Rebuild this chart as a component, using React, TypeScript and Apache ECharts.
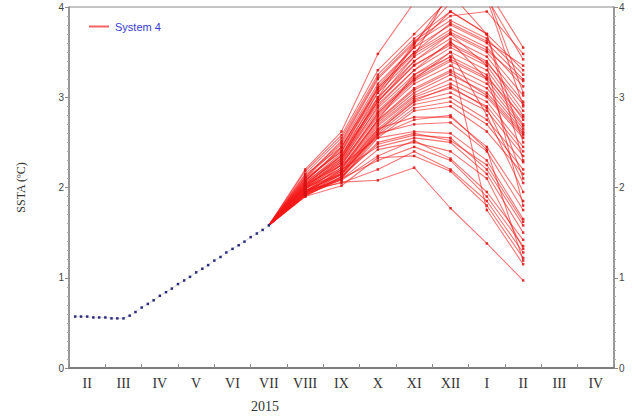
import React, { useEffect, useRef } from "react";
import * as echarts from "echarts";

const monthLabels = ["II", "III", "IV", "V", "VI", "VII", "VIII", "IX", "X", "XI", "XII", "I", "II", "III", "IV"];
const yearLabel = "2015";

// observed pentad SSTA (x = fractional month index, II 2015 = 0)
const obsX = [-0.33, -0.17, 0, 0.17, 0.33, 0.5, 0.67, 0.83, 1.0, 1.17, 1.33, 1.5, 1.67, 1.83, 2.0, 2.17, 2.33, 2.5, 2.67, 2.83, 3.0, 3.17, 3.33, 3.5, 3.67, 3.83, 4.0, 4.17, 4.33, 4.5, 4.67, 4.83, 5.0];
const obsSSTA = [0.57, 0.57, 0.57, 0.56, 0.56, 0.56, 0.55, 0.55, 0.55, 0.58, 0.62, 0.67, 0.71, 0.75, 0.80, 0.84, 0.88, 0.93, 0.97, 1.01, 1.06, 1.10, 1.14, 1.19, 1.23, 1.28, 1.32, 1.36, 1.40, 1.45, 1.49, 1.53, 1.58];

// System 4 ensemble forecasts, months VIII .. II (index 6..12), starting at VII observed value
const fcStartX = 5;
const fcStartY = 1.58;
const fcX = [6, 7, 8, 9, 10, 11, 12];
const members: number[][] = [
  [2.20, 2.62, 3.48, 4.05, 4.30, 4.20, 3.55],
  [2.18, 2.58, 3.30, 3.70, 4.10, 4.10, 3.42],
  [2.15, 2.55, 3.25, 3.65, 3.95, 3.70, 3.30],
  [2.12, 2.50, 3.20, 3.60, 3.85, 3.65, 3.25],
  [2.10, 2.48, 3.15, 3.55, 3.80, 3.60, 3.20],
  [2.14, 2.45, 3.10, 3.50, 3.75, 3.55, 3.12],
  [2.08, 2.42, 3.05, 3.45, 3.70, 3.50, 3.02],
  [2.10, 2.40, 3.00, 3.40, 3.65, 3.45, 2.95],
  [2.05, 2.38, 2.95, 3.35, 3.60, 3.40, 2.85],
  [2.06, 2.35, 2.92, 3.30, 3.55, 3.35, 2.80],
  [2.04, 2.33, 2.88, 3.25, 3.50, 3.30, 2.75],
  [2.02, 2.30, 2.85, 3.22, 3.45, 3.25, 2.70],
  [2.00, 2.28, 2.80, 3.18, 3.40, 3.20, 2.68],
  [2.03, 2.25, 2.78, 3.15, 3.35, 3.15, 2.65],
  [1.98, 2.22, 2.75, 3.10, 3.30, 3.10, 2.62],
  [2.00, 2.20, 2.72, 3.05, 3.25, 3.05, 2.60],
  [1.96, 2.18, 2.70, 3.02, 3.20, 3.00, 2.55],
  [1.95, 2.16, 2.68, 3.00, 3.15, 2.95, 2.45],
  [2.00, 2.15, 2.65, 2.98, 3.10, 2.90, 2.40],
  [1.97, 2.14, 2.62, 2.95, 3.05, 2.85, 2.35],
  [1.93, 2.12, 2.60, 2.92, 3.00, 2.75, 2.28],
  [1.95, 2.10, 2.58, 2.88, 2.95, 2.70, 2.20],
  [1.92, 2.10, 2.55, 2.85, 2.90, 2.62, 2.15],
  [2.02, 2.35, 3.05, 3.60, 4.05, 4.10, 2.90],
  [2.06, 2.45, 3.12, 3.55, 3.95, 3.70, 2.50],
  [2.01, 2.28, 2.90, 3.30, 3.62, 3.20, 2.10],
  [1.99, 2.25, 2.82, 3.20, 3.50, 2.80, 1.95],
  [1.94, 2.18, 2.65, 2.78, 2.78, 2.45, 1.85],
  [1.92, 2.15, 2.60, 2.70, 2.72, 2.40, 1.75],
  [1.95, 2.25, 2.55, 2.62, 2.60, 2.30, 1.65],
  [1.90, 2.12, 2.48, 2.58, 2.55, 2.20, 1.58],
  [1.93, 2.20, 2.45, 2.55, 2.50, 2.15, 1.50],
  [1.96, 2.08, 2.35, 2.52, 2.32, 1.95, 1.42],
  [1.91, 2.10, 2.30, 2.45, 2.30, 1.90, 1.35],
  [1.97, 2.05, 2.20, 2.40, 2.20, 1.85, 1.28],
  [1.90, 2.02, 2.33, 2.35, 2.18, 1.80, 1.22],
  [1.94, 2.06, 2.08, 2.22, 1.77, 1.38, 0.97],
  [1.98, 2.22, 2.75, 3.25, 3.45, 1.75, 1.15],
  [2.00, 2.30, 2.95, 3.40, 3.70, 3.35, 1.80],
  [2.08, 2.40, 3.10, 3.50, 3.82, 3.62, 3.35],
  [2.04, 2.32, 2.98, 3.45, 4.20, 4.15, 3.05],
  [2.11, 2.52, 3.22, 3.62, 3.90, 3.95, 3.48],
  [2.07, 2.44, 3.08, 3.48, 3.72, 3.52, 3.18],
  [2.03, 2.36, 2.96, 3.36, 3.58, 3.38, 2.92],
  [1.99, 2.26, 2.83, 3.20, 3.42, 3.22, 2.78],
  [1.96, 2.20, 2.74, 3.08, 3.28, 3.02, 2.58],
  [1.94, 2.14, 2.63, 2.96, 3.12, 2.88, 2.05],
  [2.01, 2.32, 3.00, 3.58, 4.15, 3.70, 2.30],
  [1.92, 2.12, 2.50, 2.60, 2.52, 2.25, 1.62],
  [1.91, 2.09, 2.42, 2.50, 2.40, 2.10, 1.32],
  [1.95, 2.16, 2.58, 2.75, 2.80, 2.42, 1.19],
];

export default function App() {
  const ref = useRef<HTMLDivElement>(null);
  useEffect(() => {
    if (!ref.current) return;
    const chart = echarts.init(ref.current, undefined, { renderer: "svg" });
    const axisGray = "#8a8a8a";
    const redSeries = members.map((m) => ({
      name: "System 4",
      type: "line",
      xAxisIndex: 1,
      yAxisIndex: 0,
      clip: true,
      symbol: "rect",
      symbolSize: (_v: any, p: any) => (p.dataIndex === 0 ? 0 : 2.5),
      itemStyle: { color: "rgba(215,20,20,0.85)" },
      lineStyle: { color: "rgba(245,25,25,0.6)", width: 1.1 },
      data: [[fcStartX, fcStartY], ...m.map((v, i) => [fcX[i], v])],
      z: 3,
    }));
    chart.setOption({
      animation: false,
      backgroundColor: "#ffffff",
      grid: { left: 69, right: 29, top: 7, bottom: 51, show: true, borderColor: axisGray, borderWidth: 1 },
      legend: {
        data: [{ name: "System 4", icon: "path://M0,0 L10,0 L10,1 L0,1 Z" }],
        left: 84,
        top: 16,
        itemWidth: 22,
        itemHeight: 2,
        textStyle: { color: "#3a3ad0", fontSize: 11, fontFamily: "Liberation Sans" },
        itemStyle: { color: "rgba(245,60,60,0.8)" },
      },
      xAxis: [
        {
          type: "category",
          data: monthLabels,
          boundaryGap: true,
          axisLine: { onZero: false, lineStyle: { color: "#666", width: 1.5 } },
          axisTick: { show: true, inside: true, length: 4, lineStyle: { color: axisGray } },
          axisLabel: { color: "#333", fontFamily: "Liberation Serif", fontSize: 14, margin: 8 },
          splitLine: { show: false },
        },
        {
          type: "value",
          min: -0.5,
          max: 14.5,
          show: false,
          axisLine: { onZero: false },
          splitLine: { show: false },
        },
      ],
      yAxis: [
        {
          type: "value",
          min: 0,
          max: 4,
          interval: 1,
          position: "left",
          name: "SSTA (ºC)",
          nameLocation: "middle",
          nameGap: 42,
          nameTextStyle: { color: "#333", fontFamily: "Liberation Serif", fontSize: 12 },
          axisLine: { show: true, onZero: false, lineStyle: { color: axisGray, width: 1.5 } },
          axisTick: { show: true, length: 4, lineStyle: { color: axisGray } },
          minorTick: { show: true, splitNumber: 10, length: 2, lineStyle: { color: "#aaa" } },
          axisLabel: { color: "#444", fontFamily: "Liberation Sans", fontSize: 10, margin: 5 },
          splitLine: { show: false },
        },
        {
          type: "value",
          min: 0,
          max: 4,
          interval: 1,
          position: "right",
          axisLine: { show: true, onZero: false, lineStyle: { color: axisGray, width: 1.5 } },
          axisTick: { show: true, length: 4, lineStyle: { color: axisGray } },
          minorTick: { show: true, splitNumber: 10, length: 2, lineStyle: { color: "#aaa" } },
          axisLabel: { color: "#444", fontFamily: "Liberation Sans", fontSize: 10, margin: 5 },
          splitLine: { show: false },
        },
      ],
      graphic: [
        {
          type: "text",
          left: 251,
          top: 399,
          style: { text: yearLabel, fill: "#333", font: "14px 'Liberation Serif'" },
        },
      ],
      series: [
        ...redSeries,
        {
          name: "Observed",
          type: "line",
          xAxisIndex: 1,
          yAxisIndex: 0,
          symbol: "rect",
          symbolSize: 2.5,
          itemStyle: { color: "#2b2b7a" },
          lineStyle: { color: "rgba(60,60,140,0.18)", width: 1 },
          data: obsX.map((x, i) => [x, obsSSTA[i]]),
          z: 4,
        },
      ],
    });
    return () => chart.dispose();
  }, []);
  return <div ref={ref} style={{ width: 643, height: 419, position: "absolute", left: 0, top: 0 }} />;
}
